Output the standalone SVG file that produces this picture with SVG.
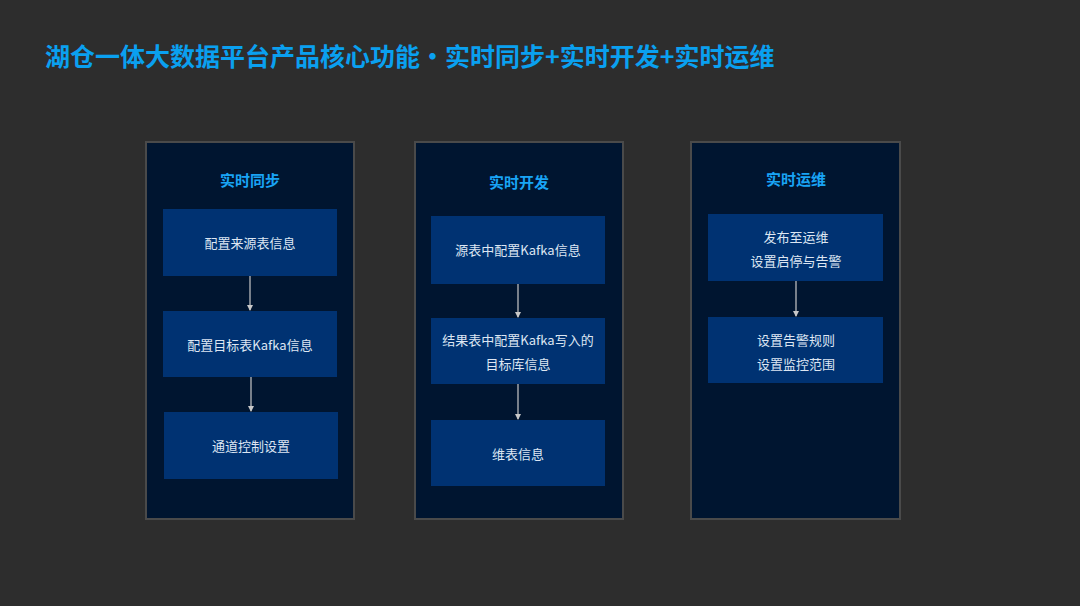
<svg xmlns="http://www.w3.org/2000/svg" width="1080" height="606" viewBox="0 0 1080 606">
<style>
text{font-family:"Noto Sans CJK SC","Liberation Sans",sans-serif}
.panel{fill:#001530;stroke:#4a4a4a;stroke-width:2}
.box{fill:#003272}
.head{fill:#19a4f5;font-size:15px;font-weight:bold;text-anchor:middle}
.lbl{fill:#dde6f2;font-size:13px;text-anchor:middle}
.con line{stroke:#c8c8c8;stroke-width:1.2;marker-end:url(#a)}
</style>
<defs><marker id="a" viewBox="0 0 6 6" refX="5" refY="3" markerWidth="5" markerHeight="5" orient="auto"><path d="M0,0L6,3L0,6z" fill="#c8c8c8"/></marker></defs>
<rect width="1080" height="606" fill="#2d2d2d"/>
<text x="45" y="66" font-size="25" font-weight="bold" fill="#0aa0f0">湖仓一体大数据平台产品核心功能·实时同步+实时开发+实时运维</text>
<g id="p1"><rect class="panel" x="146" y="142" width="208" height="377"/><text class="head" x="250" y="186">实时同步</text></g>
<g id="p2"><rect class="panel" x="415" y="142" width="208" height="377"/><text class="head" x="519" y="188">实时开发</text></g>
<g id="p3"><rect class="panel" x="691" y="142" width="209" height="377"/><text class="head" x="796" y="185">实时运维</text></g>
<g id="n1"><rect class="box" x="163" y="209" width="174" height="67"/><text class="lbl" x="250" y="248">配置来源表信息</text></g>
<g id="n2"><rect class="box" x="163" y="311" width="174" height="66"/><text class="lbl" x="250" y="350">配置目标表Kafka信息</text></g>
<g id="n3"><rect class="box" x="164" y="412" width="174" height="67"/><text class="lbl" x="251" y="451">通道控制设置</text></g>
<g id="n4"><rect class="box" x="431" y="216" width="174" height="68"/><text class="lbl" x="518" y="255">源表中配置Kafka信息</text></g>
<g id="n5"><rect class="box" x="431" y="318" width="174" height="66"/><text class="lbl" x="518" y="345">结果表中配置Kafka写入的</text><text class="lbl" x="518" y="369">目标库信息</text></g>
<g id="n6"><rect class="box" x="431" y="420" width="174" height="66"/><text class="lbl" x="518" y="459">维表信息</text></g>
<g id="n7"><rect class="box" x="708" y="214" width="175" height="67"/><text class="lbl" x="796" y="242">发布至运维</text><text class="lbl" x="796" y="266">设置启停与告警</text></g>
<g id="n8"><rect class="box" x="708" y="317" width="175" height="66"/><text class="lbl" x="796" y="345">设置告警规则</text><text class="lbl" x="796" y="369">设置监控范围</text></g>
<g class="con">
<line x1="250" y1="276" x2="250" y2="310"/>
<line x1="251" y1="377" x2="251" y2="411"/>
<line x1="518" y1="284" x2="518" y2="317"/>
<line x1="518" y1="384" x2="518" y2="419"/>
<line x1="796" y1="281" x2="796" y2="316"/>
</g>
</svg>
